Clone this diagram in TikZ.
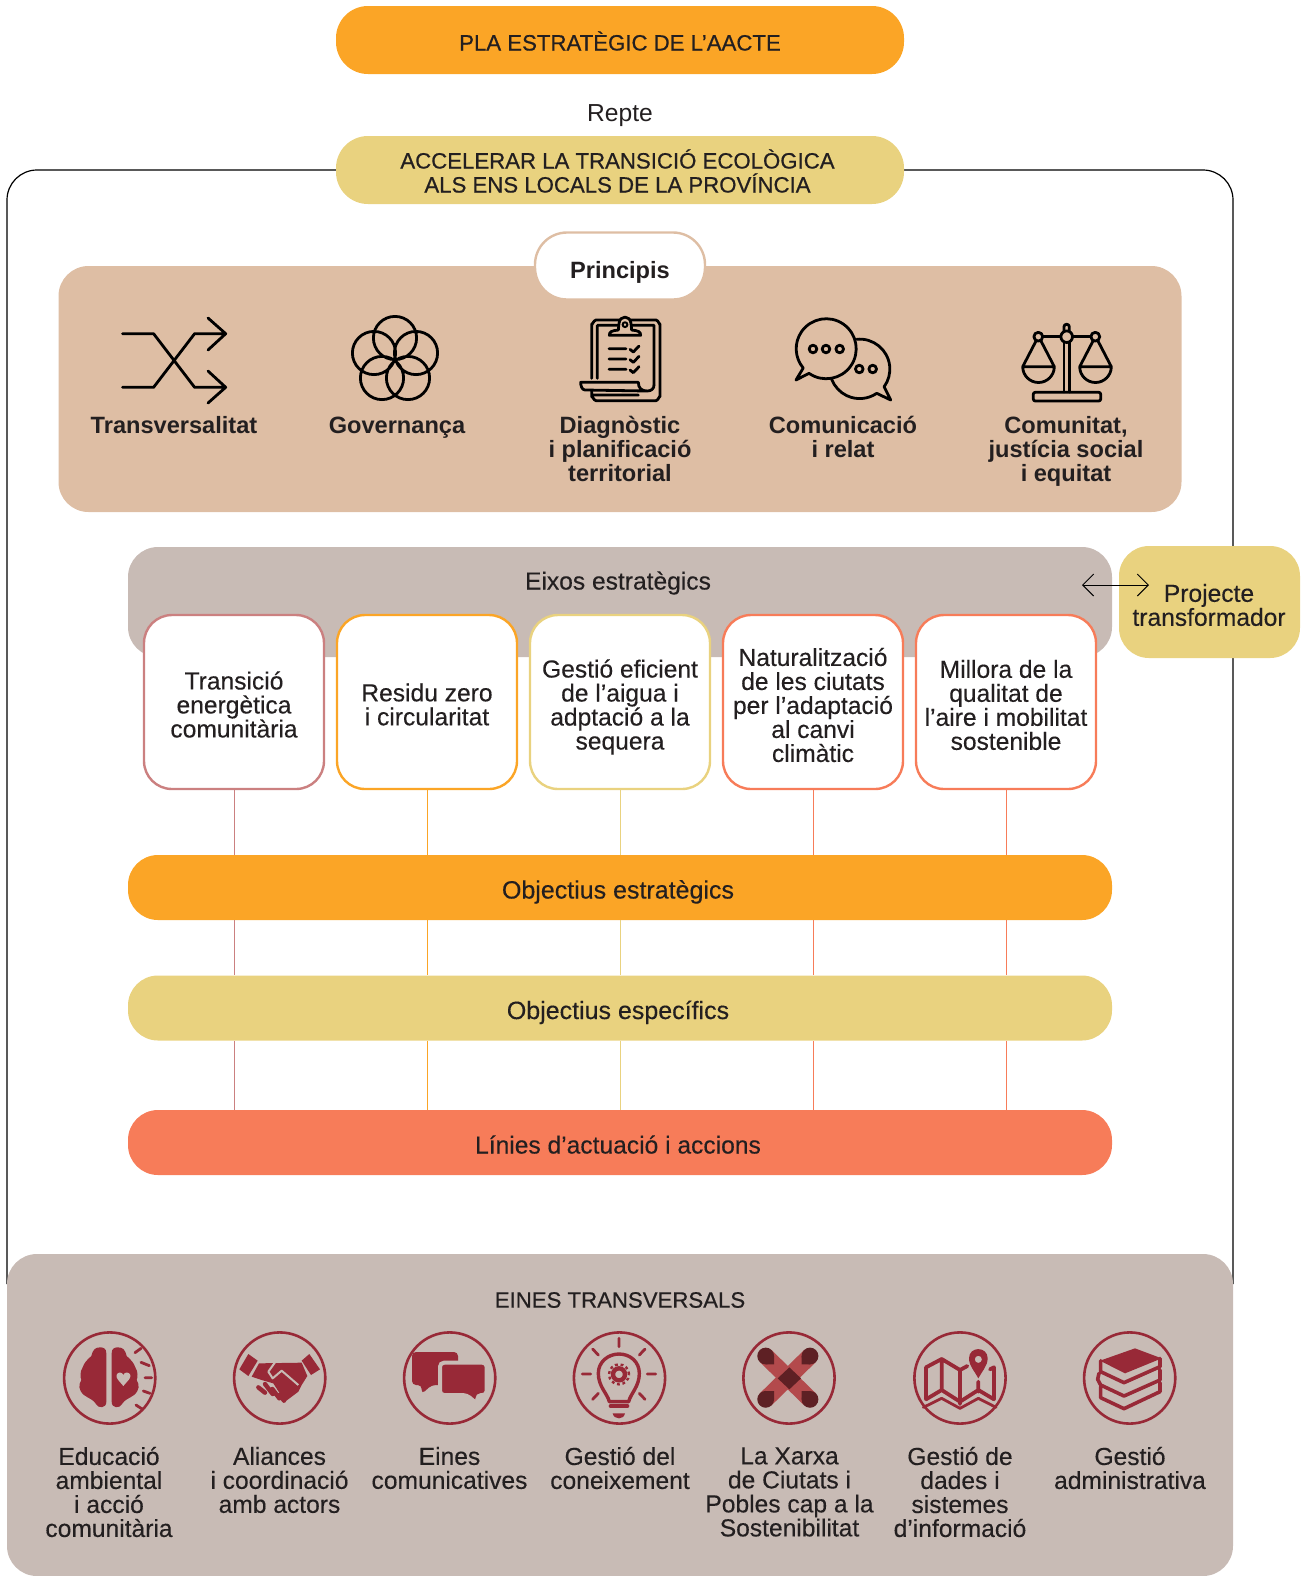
\documentclass[tikz,border=0pt]{standalone}
\usepackage{fontspec}
\setmainfont{Liberation Sans}
\newfontfamily\mediumfont[FakeBold=0.25]{Liberation Sans}
\newfontfamily\capsweight[FakeBold=0.6]{Liberation Sans}
\usetikzlibrary{arrows.meta}
\definecolor{orangebar}{HTML}{FBA526}
\definecolor{yellowbar}{HTML}{E9D27F}
\definecolor{tanbox}{HTML}{DEBEA4}
\definecolor{greybox}{HTML}{C8BBB5}
\definecolor{salmonbar}{HTML}{F77C59}
\definecolor{rosecard}{HTML}{CB8080}
\definecolor{wine}{HTML}{982937}
\definecolor{crossred}{HTML}{B34A4C}
\definecolor{crossdark}{HTML}{5E2024}
\definecolor{ink}{HTML}{231F20}
\begin{document}
\begin{tikzpicture}[x=.5pt,y=-.5pt,every node/.style={text=ink,inner sep=0pt,align=center,font=\fontsize{12.3}{12}\selectfont\mediumfont},
pill/.style={rounded corners=16pt,minimum width=284pt,minimum height=34pt},
bar/.style={rounded corners=15pt,minimum width=492pt,minimum height=32.5pt,text height=11pt,text depth=0pt},
card/.style={draw,fill=white,line width=1.2pt,rounded corners=14pt,minimum width=90pt,minimum height=87pt},
capsfont/.style={font=\fontsize{11.1}{12}\selectfont\capsweight},
head/.style={font=\fontsize{11.8}{12}\selectfont\bfseries},
crop/.style={x=.16667pt,y=-.16667pt},
ink stroke/.style={draw=black,line width=1.4pt,line cap=round,line join=round},
ring/.style={draw=wine,line width=1.3pt},
wine stroke/.style={draw=wine,line width=1.4pt,line cap=round,line join=round}]
\useasboundingbox (0,0) rectangle (1314,1576);
\draw[rounded corners=15pt,line width=.6pt] (340,170)--(7,170)--(7,1284)(900,170)--(1233,170)--(1233,1284);
\node[pill,fill=orangebar,capsfont,text height=10.5pt,text depth=0pt] (pla) at (620,40) {PLA ESTRATÈGIC DE L’AACTE};
\node[font=\fontsize{12.3}{12}\selectfont] (repte) at (620,116) {Repte};
\node[pill,fill=yellowbar] (repbox) at (620,170) {};
\node[capsfont] (accel) at (617.5,171) {ACCELERAR LA TRANSICIÓ ECOLÒGICA\\ALS ENS LOCALS DE LA PROVÍNCIA};
\node[fill=tanbox,rounded corners=15pt,minimum width=561.5pt,minimum height=123pt] (princ) at (620,389) {};
\node[head,draw=tanbox,fill=white,line width=1.2pt,rounded corners=16pt,minimum width=85pt,minimum height=33.5pt,text height=12.4pt,text depth=0pt] (principis) at (620,266) {Principis};
\node[head] (transv) at (174,425) {Transversalitat};
\node[head] (gov) at (397,427.5) {Governança};
\node[head] (diag) at (620,449) {Diagnòstic\\i planificació\\territorial};
\node[head] (com) at (843,437) {Comunicació\\i relat};
\node[head] (just) at (1066,451) {Comunitat,\\justícia social\\i equitat};
\node[fill=greybox,rounded corners=15pt,minimum width=492pt,minimum height=55pt] (eixbox) at (620,602) {};
\node (eixos) at (618,583) {Eixos estratègics};
\node[fill=yellowbar,rounded corners=15pt,minimum width=90.5pt,minimum height=56pt] (proj) at (1209.5,602) {};
\node (projtext) at (1209,605) {Projecte\\transformador};
\coordinate (arrowl) at (1082,585);
\coordinate (arrowr) at (1149,585);
\draw[{Straight Barb[length=5.5pt,width=11pt]}-{Straight Barb[length=5.5pt,width=11pt]},line width=.5pt] (arrowl)--(arrowr);
\node[card,draw=rosecard] (ta) at (234,702) {};
\node[card,draw=orangebar] (tb) at (427,702) {};
\node[card,draw=yellowbar] (tc) at (620,702) {};
\node[card,draw=salmonbar] (td) at (813,702) {};
\node[card,draw=salmonbar] (te) at (1006,702) {};
\node (tatext) at (234,704.5) {Transició\\energètica\\comunitària};
\node (tbtext) at (427,704.5) {Residu zero\\i circularitat};
\node (tctext) at (620,707) {Gestió eficient\\de l’aigua i\\adptació a la\\sequera};
\node (tdtext) at (813,705) {Naturalització\\de les ciutats\\per l’adaptació\\al canvi\\climàtic};
\node (tetext) at (1006,705) {Millora de la\\qualitat de\\l’aire i mobilitat\\sostenible};
\node[bar,fill=orangebar,font=\fontsize{12.5}{12}\selectfont\mediumfont] (oe) at (620,887.5) {Objectius estratègics\hspace*{2pt}};
\node[bar,fill=yellowbar,font=\fontsize{12.5}{12}\selectfont\mediumfont] (es) at (620,1008) {Objectius específics\hspace*{2pt}};
\node[bar,fill=salmonbar] (li) at (620,1142.5) {Línies d’actuació i accions\hspace*{2pt}};
\draw[rosecard,line width=.5pt] (ta.south)--(ta.south|-oe.north)(ta.south|-oe.south)--(ta.south|-es.north)(ta.south|-es.south)--(ta.south|-li.north);
\draw[orangebar,line width=.5pt] (tb.south)--(tb.south|-oe.north)(tb.south|-oe.south)--(tb.south|-es.north)(tb.south|-es.south)--(tb.south|-li.north);
\draw[yellowbar,line width=.5pt] (tc.south)--(tc.south|-oe.north)(tc.south|-oe.south)--(tc.south|-es.north)(tc.south|-es.south)--(tc.south|-li.north);
\draw[salmonbar,line width=.5pt] (td.south)--(td.south|-oe.north)(td.south|-oe.south)--(td.south|-es.north)(td.south|-es.south)--(td.south|-li.north);
\draw[salmonbar,line width=.5pt] (te.south)--(te.south|-oe.north)(te.south|-oe.south)--(te.south|-es.north)(te.south|-es.south)--(te.south|-li.north);
\node[fill=greybox,rounded corners=15pt,minimum width=613pt,minimum height=161pt] (eines) at (620,1415) {};
\node[capsfont] (einest) at (620,1300) {EINES TRANSVERSALS};
\node (ea) at (109,1492) {Educació\\ambiental\\i acció\\comunitària};
\node (eb) at (279.5,1480) {Aliances\\i coordinació\\amb actors};
\node (ec) at (449.5,1468) {Eines\\comunicatives};
\node (ed) at (620,1468) {Gestió del\\coneixement};
\node (ee) at (789.5,1492) {La Xarxa\\de Ciutats i\\Pobles cap a la\\Sostenibilitat};
\node (ef) at (960,1492) {Gestió de\\dades i\\sistemes\\d’informació};
\node (eg) at (1130,1468) {Gestió\\administrativa};
\draw[ink stroke] (122.5,333.7)--(153.6,333.7)--(194.6,387.3)--(225.7,387.3)(208,371)--(225.7,387.3)--(208,403)(122.5,387.3)--(153.6,387.3)--(194.6,333.7)--(225.7,333.7)(208,318)--(225.7,333.7)--(208,350);
\draw[ink stroke] (395,338) circle (10.8pt)(374,353) circle (10.8pt)(416,353) circle (10.8pt)(382,378) circle (10.8pt)(408,378) circle (10.8pt);
\begin{scope}[shift={(570,310)},crop]
\draw[ink stroke] (65,205)--(65,42) to[out=-90,in=180] (78,30)--(258,30) to[out=0,in=-90] (270,42)--(270,260) to[out=90,in=0] (258,272)--(78,272) to[out=180,in=90] (65,260)--(65,245)(82,205)--(82,46)--(252,46)--(252,225)(70,255)--(205,255);
\draw[ink stroke,fill=tanbox] (40,217)--(205,217) .. controls (205,235) and (215,243) .. (232,243) .. controls (245,243) and (252,235) .. (252,225) (232,243)--(45,240) .. controls (35,240) and (32,225) .. (32,217)--(40,217);
\draw[ink stroke,fill=tanbox] (118,76)--(212,76) .. controls (212,65) and (205,62) .. (185,60)--(183,40) .. controls (180,15) and (150,15) .. (147,40)--(145,60) .. controls (125,62) and (118,65) .. cycle;
\draw[ink stroke,line width=1pt] (165,44) circle (1.2pt);
\draw[ink stroke] (117,116)--(168,116)(117,147)--(168,147)(117,178)--(168,178)(180,118)--(190,126)--(207,108)(180,149)--(190,157)--(207,139)(180,180)--(190,188)--(207,170);
\end{scope}
\draw[ink stroke] (809,373.3) arc[start angle=235,end angle=580,radius=15pt]--(796,380)--cycle;
\draw[ink stroke] (856.7,339.3) arc[start angle=96,end angle=-36,radius=15pt]--(890.7,400)--(876.7,393.3) arc[start angle=-55.5,end angle=-159,radius=15pt];
\draw[ink stroke] (813,349) circle (1.9pt)(826,349) circle (1.9pt)(839.7,349) circle (1.9pt)(859.3,369) circle (1.9pt)(872.7,369) circle (1.9pt);
\draw[ink stroke,rounded corners=1pt] (1033.3,392.3) rectangle (1100.7,401);
\draw[ink stroke] (1064,392)--(1064,342)(1069.3,392)--(1069.3,342)(1038.3,336.7)--(1095,336.7);
\draw[ink stroke,rounded corners=1.2pt] (1064,332)--(1064,324.3)--(1069.3,324.3)--(1069.3,332);
\draw[ink stroke,fill=tanbox] (1066.7,336.7) circle (2.9pt)(1038.3,336.7) circle (2.2pt)(1095.3,336.7) circle (2.2pt);
\draw[ink stroke] (1036,341)--(1022.7,366.7)(1041,341)--(1054.3,366.7)(1022.7,366.7)--(1054.3,366.7) arc[start angle=0,end angle=-180,radius=7.9pt];
\draw[ink stroke] (1093,341)--(1079.7,366.7)(1098,341)--(1111.3,366.7)(1079.7,366.7)--(1111.3,366.7) arc[start angle=0,end angle=-180,radius=7.9pt];
\draw[ring] (109.7,1378) circle (22.8pt)(279.7,1378) circle (22.8pt)(449.7,1378) circle (22.8pt)(619.5,1378) circle (22.8pt)(789,1378) circle (22.8pt)(960,1378) circle (22.8pt)(1129.7,1378) circle (22.8pt);
\begin{scope}[shift={(60,1330)},crop]
\fill[wine] (139,70) .. controls (139,55) and (130,52) .. (120,52) .. controls (105,52) and (98,60) .. (94,78) .. controls (80,90) and (72,100) .. (68,112) .. controls (60,125) and (60,140) .. (64,150) .. controls (55,165) and (55,180) .. (72,195) .. controls (85,205) and (100,208) .. (108,222) .. controls (115,236) and (139,236) .. (139,215)--cycle;
\fill[wine] (155,70) .. controls (155,55) and (164,52) .. (174,52) .. controls (189,52) and (196,60) .. (200,78) .. controls (214,90) and (222,100) .. (226,112) .. controls (234,125) and (234,140) .. (230,150) .. controls (239,165) and (239,180) .. (222,195) .. controls (209,205) and (194,208) .. (186,222) .. controls (179,236) and (155,236) .. (155,215)--cycle;
\fill[greybox] (190,168) .. controls (175,150) and (168,145) .. (170,135) .. controls (172,125) and (187,125) .. (190,135) .. controls (193,125) and (208,125) .. (211,135) .. controls (213,145) and (205,150) .. cycle;
\draw[wine stroke] (225,68)--(243,55)(243,97)--(268,107)(255,143)--(275,143)(250,183)--(270,190)(228,225)--(248,238);
\end{scope}
\begin{scope}[shift={(230,1330)},crop]
\fill[wine] (55,72)--(83,92)--(55,138)--(28,118)--cycle(238,72)--(270,118)--(243,135)--(215,92)--cycle;
\fill[wine] (87,100)--(215,98)--(232,138)--(215,165)--(205,185)--(165,215)--(130,160)--(95,150)--(65,140)--cycle;
\draw[greybox,line width=1pt,line join=round] (135,97)--(115,125)--(128,145)--(155,122)--(205,165);
\draw[wine,line width=2.2pt,line cap=round] (85,172)--(105,188)(105,162)--(128,192)(127,177)--(148,205)(150,195)--(162,212);
\end{scope}
\fill[wine,rounded corners=2pt] (412,1352)--(458,1352)--(458,1385)--(431.7,1385)--(421.7,1394)--(421.7,1385)--(412,1385)--cycle;
\filldraw[wine,draw=greybox,line width=2pt,rounded corners=2pt] (440,1362.7)--(486.7,1362.7)--(486.7,1395)--(477.3,1395)--(477.3,1404)--(466.7,1395)--(440,1395)--cycle;
\begin{scope}[shift={(570,1330)},crop]
\draw[wine stroke] (147,25)--(147,50)(68,57)--(85,75)(225,57)--(208,75)(37,132)--(62,132)(232,132)--(257,132)(68,208)--(85,190)(225,208)--(208,190);
\draw[wine stroke,line width=1.7pt] (118,215) .. controls (112,190) and (85,170) .. (85,130) .. controls (85,95) and (115,72) .. (147,72) .. controls (180,72) and (208,95) .. (208,130) .. controls (208,170) and (182,190) .. (176,215)--cycle;
\draw[wine,line width=2.2pt] (147,133) circle (3pt);
\draw[wine,line width=1.2pt,dash pattern=on 1.4pt off 1.4pt] (147,133) circle (5pt);
\draw[wine,line width=2pt,line cap=round] (122,228)--(172,228);
\fill[wine] (128,250)--(165,250) .. controls (163,260) and (155,265) .. (147,265) .. controls (138,265) and (130,260) .. cycle;
\end{scope}
\begin{scope}[shift={(740,1330)},crop]
\draw[crossred,line width=8.4pt] (77,78)--(210,208)(210,78)--(77,208);
\fill[crossdark] (77,78) circle (4.2pt)(210,78) circle (4.2pt)(77,208) circle (4.2pt)(210,208) circle (4.2pt);
\fill[crossdark] (102,78)--(102,103)--(77,103)--cycle(185,78)--(185,103)--(210,103)--cycle(102,208)--(102,183)--(77,183)--cycle(185,208)--(185,183)--(210,183)--cycle;
\fill[crossdark] (148,112)--(183,145)--(148,178)--(113,145)--cycle;
\end{scope}
\begin{scope}[shift={(910,1330)},crop]
\draw[wine stroke,line width=1.9pt] (48,208)--(48,112)--(95,87)--(150,120)--(172,108)(95,87)--(95,180)(150,120)--(150,222)(205,155)--(205,185)(240,118)--(252,112)--(252,208)(48,208)--(95,180)--(150,215)--(205,180)--(252,208);
\draw[wine stroke] (40,232)--(95,205)--(150,235)--(205,205)--(258,232);
\fill[wine,even odd rule] (205,145) .. controls (195,125) and (177,108) .. (177,85) .. controls (177,48) and (233,48) .. (233,85) .. controls (233,108) and (215,125) .. cycle (205,88) circle (1.8pt);
\end{scope}
\begin{scope}[shift={(1080,1330)},crop]
\fill[wine] (60,92)--(165,55)--(245,85)--(135,130)--cycle;
\draw[wine stroke,line width=1.8pt] (62,92)--(62,125)--(132,158)--(240,110)--(240,85)(57,130)--(53,148)--(62,165)--(132,198)--(240,150)--(240,120)(62,170)--(62,203)--(132,236)--(240,185)--(240,158);
\end{scope}
\end{tikzpicture}
\end{document}
